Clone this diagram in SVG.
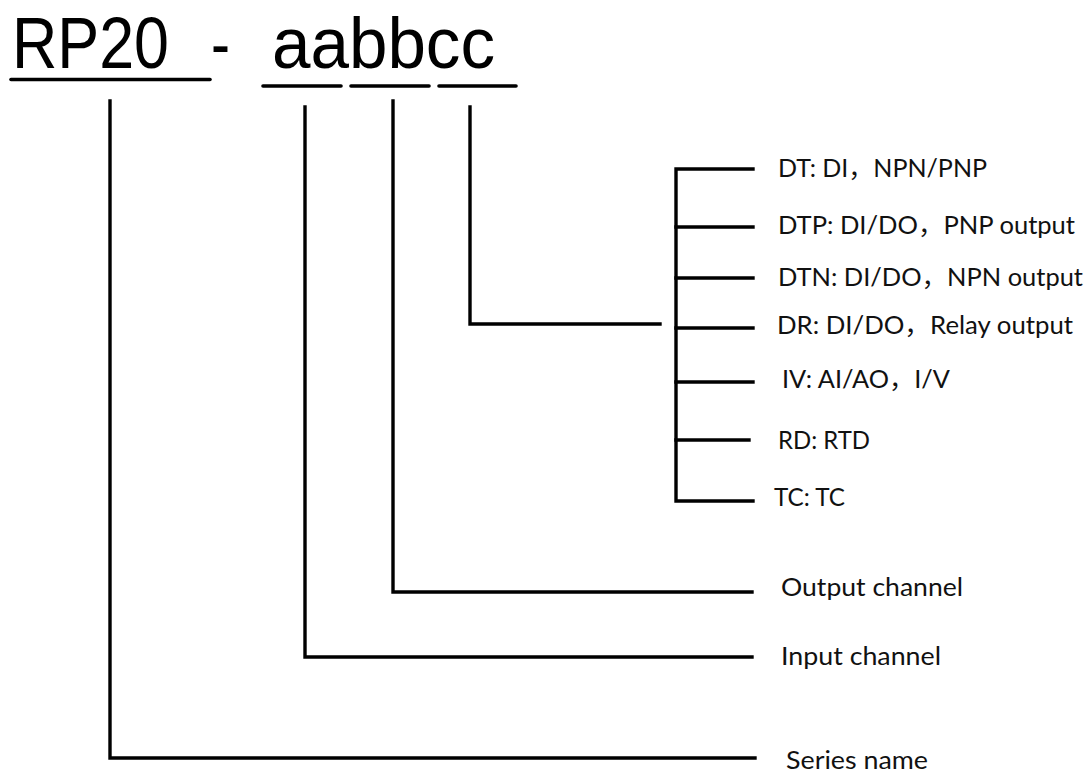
<svg xmlns="http://www.w3.org/2000/svg" width="1092" height="774" viewBox="0 0 1092 774">
<style>
.title{font-family:"Liberation Sans",Arial,sans-serif;font-size:72px;fill:#000}
.lbl{font-family:Lato,"Noto Sans","Noto Sans CJK SC",sans-serif;font-size:25px;fill:#111}
.ul{stroke:#000;stroke-width:3.6;stroke-linecap:round;fill:none}
.cn{stroke:#000;stroke-width:3.4;fill:none;stroke-linecap:square;stroke-linejoin:miter}
</style>
<rect width="1092" height="774" fill="#fff"/>
<g id="title">
<text class="title" x="12" y="67.5" textLength="157" lengthAdjust="spacingAndGlyphs">RP20</text>
<text class="title" x="211" y="67.5" textLength="19" lengthAdjust="spacingAndGlyphs">-</text>
<text class="title" x="272" y="67.5" textLength="223" lengthAdjust="spacingAndGlyphs">aabbcc</text>
<line class="ul" x1="11" y1="79.5" x2="210" y2="79.5"/>
<line class="ul" x1="263" y1="86" x2="341" y2="86"/>
<line class="ul" x1="351" y1="86" x2="429" y2="86"/>
<line class="ul" x1="439" y1="86" x2="516" y2="86"/>
</g>
<g id="connectors">
<path class="cn" d="M110 101 V758 H755"/>
<path class="cn" d="M305 107 V657 H752"/>
<path class="cn" d="M393 101 V592 H752"/>
<path class="cn" d="M470 107 V324 H660"/>
<path class="cn" d="M753 169 H676 V501 H753"/>
<path class="cn" d="M676 227 H753"/>
<path class="cn" d="M676 278 H753"/>
<path class="cn" d="M676 328 H753"/>
<path class="cn" d="M676 382 H753"/>
<path class="cn" d="M676 440 H749"/>
</g>
<g id="node-dt"><text class="lbl" x="778" y="177" textLength="209" lengthAdjust="spacingAndGlyphs">DT: DI，NPN/PNP</text></g>
<g id="node-dtp"><text class="lbl" x="778" y="234" textLength="297" lengthAdjust="spacingAndGlyphs">DTP: DI/DO，PNP output</text></g>
<g id="node-dtn"><text class="lbl" x="778" y="286" textLength="305" lengthAdjust="spacingAndGlyphs">DTN: DI/DO，NPN output</text></g>
<g id="node-dr"><text class="lbl" x="777" y="334" textLength="296" lengthAdjust="spacingAndGlyphs">DR: DI/DO，Relay output</text></g>
<g id="node-iv"><text class="lbl" x="782" y="388" textLength="168" lengthAdjust="spacingAndGlyphs">IV: AI/AO，I/V</text></g>
<g id="node-rd"><text class="lbl" x="778" y="449" textLength="92" lengthAdjust="spacingAndGlyphs">RD: RTD</text></g>
<g id="node-tc"><text class="lbl" x="774" y="506" textLength="71" lengthAdjust="spacingAndGlyphs">TC: TC</text></g>
<g id="node-output"><text class="lbl" x="781" y="596" textLength="182" lengthAdjust="spacingAndGlyphs">Output channel</text></g>
<g id="node-input"><text class="lbl" x="781" y="665" textLength="160" lengthAdjust="spacingAndGlyphs">Input channel</text></g>
<g id="node-series"><text class="lbl" x="786" y="769" textLength="142" lengthAdjust="spacingAndGlyphs">Series name</text></g>
</svg>
